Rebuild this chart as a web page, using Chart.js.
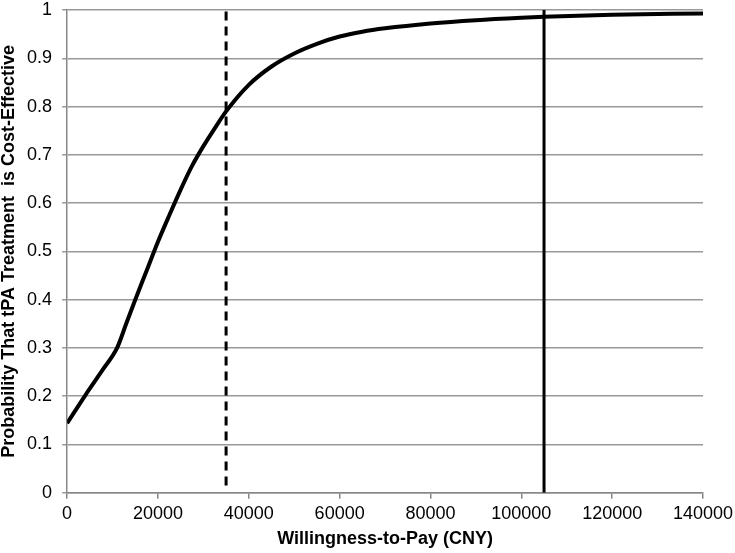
<!DOCTYPE html>
<html><head><meta charset="utf-8">
<script src="https://cdn.jsdelivr.net/npm/chart.js@4.4.0/dist/chart.umd.min.js"></script>
<style>html,body{margin:0;padding:0;background:#fff}#wrap{width:735px;height:553px}</style>
</head><body><div id="wrap"><canvas id="c" width="735" height="553"></canvas></div>
<script>
const wtp = [0, 4000, 8000, 11000, 13000, 15000, 17500, 20000, 22500, 25000, 27500, 30000, 32500, 35000, 40000, 45000, 50000, 55000, 60000, 65000, 70000, 80000, 90000, 100000, 105000, 120000, 140000];
const prob = [0.144, 0.202, 0.257, 0.30, 0.35, 0.40, 0.46, 0.52, 0.575, 0.628, 0.677, 0.718, 0.755, 0.79, 0.845, 0.883, 0.91, 0.93, 0.945, 0.955, 0.962, 0.972, 0.979, 0.984, 0.986, 0.99, 0.993];
const dashedX = 35000;
const solidX = 105000;
const yTicks = [0, 0.1, 0.2, 0.3, 0.4, 0.5, 0.6, 0.7, 0.8, 0.9, 1];
const xTicks = [0, 20000, 40000, 60000, 80000, 100000, 120000, 140000];

const font = "'Liberation Sans', Arial, sans-serif";
new Chart(document.getElementById('c'), {
  type: 'scatter',
  data: {
    datasets: [
      { data: wtp.map((x, i) => ({x, y: prob[i]})), showLine: true, borderColor: '#000', borderWidth: 4, pointRadius: 0, tension: 0.4, cubicInterpolationMode: 'monotone', fill: false },
      { data: [{x: dashedX, y: 0.015}, {x: dashedX, y: 1}], showLine: true, borderColor: '#000', borderWidth: 3, borderDash: [9, 6], pointRadius: 0 },
      { data: [{x: solidX, y: 0}, {x: solidX, y: 1}], showLine: true, borderColor: '#000', borderWidth: 3, pointRadius: 0 }
    ]
  },
  options: {
    responsive: false, animation: false,
    layout: { padding: { top: 0, right: 0, left: 0, bottom: 3 } },
    plugins: { legend: { display: false }, tooltip: { enabled: false } },
    scales: {
      x: {
        type: 'linear', min: 0, max: 140000,
        afterBuildTicks: a => { a.ticks = xTicks.map(v => ({value: v})); },
        afterFit: s => { s.paddingRight = 32; },
        ticks: { color: '#000', font: { family: font, size: 18 }, padding: 4, maxRotation: 0, callback: v => String(v) },
        grid: { drawOnChartArea: false, color: '#888', tickLength: 6, lineWidth: 1.5 },
        border: { color: '#888', width: 1.5 },
        title: { display: true, text: 'Willingness-to-Pay (CNY)', color: '#000', font: { family: font, size: 18, weight: 'bold' }, padding: { top: 0, bottom: 0 } }
      },
      y: {
        min: 0, max: 1,
        afterBuildTicks: a => { a.ticks = yTicks.map(v => ({value: v})); },
        afterFit: s => { s.paddingTop = 10; },
        ticks: { color: '#000', font: { family: font, size: 18 }, padding: 10, callback: v => String(v) },
        grid: { color: '#999', tickLength: 5, lineWidth: 1.5 },
        border: { color: '#888', width: 1.5 },
        title: { display: true, text: 'Probability That tPA Treatment  is Cost-Effective', color: '#000', font: { family: font, size: 18, weight: 'bold', lineHeight: 0.95 }, padding: { top: 0, bottom: 0 } }
      }
    }
  }
});
</script></body></html>
